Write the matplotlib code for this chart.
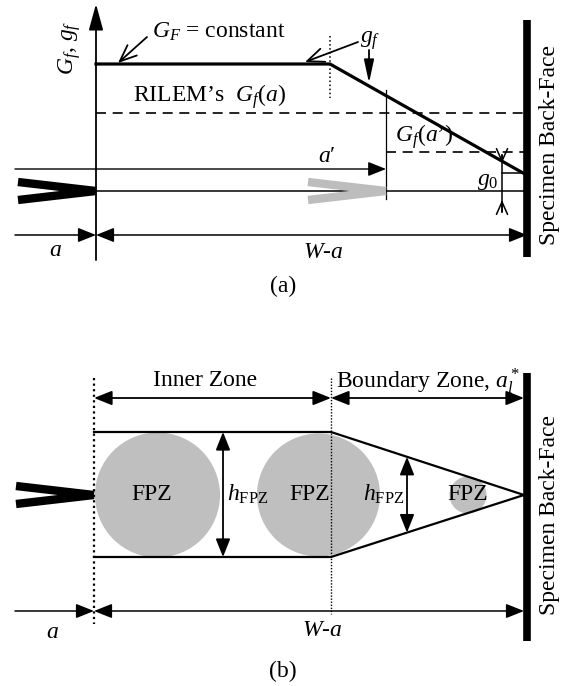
import numpy as np
import matplotlib.pyplot as plt
from matplotlib.patches import Circle

plt.rcParams['font.family'] = ['Liberation Serif', 'DejaVu Serif']
plt.rcParams['mathtext.fontset'] = 'custom'
plt.rcParams['mathtext.rm'] = 'Liberation Serif'
plt.rcParams['mathtext.it'] = 'Liberation Serif:italic'
plt.rcParams['mathtext.bf'] = 'Liberation Serif:bold'

# ---- panel (a) geometry (pixel units of the original picture) ----
x_tip = 96          # crack tip / G axis
x_back = 527        # specimen back face
x_knee = 330        # end of constant G_F
x_aprime = 386      # a'
gf_x = [x_tip, x_knee, 523]
gf_y = [64, 64, 173]
rilem_y = 113
gf_aprime_y = 152
crack_y_a = 191
dim_y_a = 235
aprime_y = 169

# ---- panel (b) geometry ----
x_inner = 331
zone_top = 432
zone_bot = 557
crack_y_b = 495
dim_y_b = 611
zone_arrow_y = 398
fpz_x = [157.5, 318.5, 468]
fpz_r = [62.5, 61.5, 18.5]
hfpz_x = [223, 407]

fs = 17
fig = plt.figure(figsize=(5.62, 6.86), dpi=100)
ax = fig.add_axes([0, 0, 1, 1])
ax.set_xlim(0, 562)
ax.set_ylim(686, 0)
ax.axis('off')


def arrow(x0, y0, x1, y1, style='-|>', lw=1.3, hl=0.55, hw=0.22, ms=20):
    st = f'{style},head_length={hl},head_width={hw}'
    ax.annotate('', xy=(x1, y1), xytext=(x0, y0),
                arrowprops=dict(arrowstyle=st, lw=lw, color='black',
                                shrinkA=0, shrinkB=0, mutation_scale=ms))


def notch(xl, xr, yc, color):
    ax.plot([xl, xr], [yc - 9, yc], color=color, lw=6, solid_capstyle='butt')
    ax.plot([xl, xr], [yc + 9, yc], color=color, lw=6, solid_capstyle='butt')


# ================= panel (a) =================
# vertical G axis
arrow(x_tip, 260, x_tip, 4, hl=0.8, hw=0.22)
ax.text(70, 48, '$G_f$, $g_f$', rotation=90, ha='center', va='center', fontsize=fs)

# G_f profile
ax.plot(gf_x, gf_y, color='black', lw=2.3)
ax.plot([x_knee, x_knee], [36, 98], color='black', lw=1.1, ls=':')
ax.text(219, 32, '$G_F$ = constant', ha='center', va='center', fontsize=fs)
arrow(147, 37, 118, 63, style='->', lw=1.3, hl=0.6, hw=0.25)
ax.text(370, 41, '$g_f$', ha='center', va='center', fontsize=fs)
arrow(358, 42, 305, 62, style='->', lw=1.3, hl=0.6, hw=0.25)
arrow(369, 50, 369, 83, style='-|>', lw=1.3, hl=0.7, hw=0.15)

# RILEM line and G_f(a')
ax.plot([x_tip, x_back], [rilem_y, rilem_y], color='black', lw=1.2, ls=(0, (6, 4)))
ax.text(210, 97, 'RILEM\u2019s  $G_f(a)$', ha='center', va='center', fontsize=fs)
ax.plot([x_aprime, x_back], [gf_aprime_y, gf_aprime_y], color='black', lw=1.2,
        ls=(0, (6, 4)))
ax.text(424, 137, '$G_f$($a$\u2019)', ha='center', va='center', fontsize=fs)
ax.plot([x_aprime, x_aprime], [90, 199], color='black', lw=0.9)

# a' arrow
arrow(15, aprime_y, x_aprime, aprime_y, lw=1.0)
ax.text(327, 157, '$a$\u2032', ha='center', va='center', fontsize=fs)

# crack line and notches
ax.plot([x_tip, x_back], [crack_y_a, crack_y_a], color='black', lw=1.1)
notch(18, x_tip, crack_y_a, 'black')
notch(308, x_aprime, crack_y_a, '#bdbdbd')

# g0
ax.plot([502, 523], [gf_y[-1], gf_y[-1]], color='black', lw=1.1)
ax.plot([502, 502], [155, 212], color='black', lw=1.1)
arrow(502, 155, 502, gf_y[-1] - 10, style='->', lw=1.1, hl=0.45, hw=0.2)
arrow(502, 212, 502, 200, style='->', lw=1.1, hl=0.45, hw=0.2)
ax.text(488, 181, '$g_0$', ha='center', va='center', fontsize=fs)

# dimension lines
arrow(15, dim_y_a, x_tip, dim_y_a, lw=1.1)
arrow(x_tip, dim_y_a, x_back, dim_y_a, style='<|-|>', lw=1.1)
ax.text(55, 251, '$a$', ha='center', va='center', fontsize=fs)
ax.text(323, 253, '$W$-$a$', ha='center', va='center', fontsize=fs)
ax.text(283, 286, '(a)', ha='center', va='center', fontsize=fs)

# back face
ax.plot([x_back, x_back], [20, 257], color='black', lw=5.5, solid_capstyle='butt')
ax.text(549, 145, 'Specimen Back-Face', rotation=90, ha='center', va='center',
        fontsize=fs)

# ================= panel (b) =================
ax.plot([94, 94], [378, 624], color='black', lw=1.6, ls=(0, (1, 1.5)))
ax.plot([x_inner, x_inner], [378, 614], color='black', lw=1.0, ls=(0, (1, 1.2)))

for cx, r in zip(fpz_x, fpz_r):
    ax.add_patch(Circle((cx, crack_y_b), r, facecolor='#bfbfbf', edgecolor='none',
                        zorder=1))
for cx in [152, 310, 468]:
    ax.text(cx, crack_y_b - 1, 'FPZ', ha='center', va='center', fontsize=fs, zorder=3)

ax.plot([94, x_inner, 524], [zone_top, zone_top, crack_y_b], color='black', lw=1.6)
ax.plot([94, x_inner, 524], [zone_bot, zone_bot, crack_y_b], color='black', lw=1.6)

# h_FPZ arrows
arrow(hfpz_x[0], zone_top, hfpz_x[0], zone_bot, style='<|-|>', lw=1.3)
t2 = (hfpz_x[1] - x_inner) / (524 - x_inner)
y_up = zone_top + t2 * (crack_y_b - zone_top)
y_lo = zone_bot + t2 * (crack_y_b - zone_bot)
arrow(hfpz_x[1], y_up, hfpz_x[1], y_lo, style='<|-|>', lw=1.3)
ax.text(248, crack_y_b - 1, '$h_{\\mathrm{FPZ}}$', ha='center', va='center', fontsize=fs)
ax.text(384, crack_y_b - 1, '$h_{\\mathrm{FPZ}}$', ha='center', va='center', fontsize=fs)

notch(16, 94, crack_y_b, 'black')

# zone arrows
arrow(94, zone_arrow_y, x_inner, zone_arrow_y, style='<|-|>', lw=1.3)
arrow(x_inner, zone_arrow_y, 524, zone_arrow_y, style='<|-|>', lw=1.3)
ax.text(205, 381, 'Inner Zone', ha='center', va='center', fontsize=fs)
ax.text(336, 381, 'Boundary Zone, $a_l^*$', ha='left', va='center', fontsize=fs)

# dimension lines
arrow(15, dim_y_b, 94, dim_y_b, lw=1.1)
arrow(94, dim_y_b, 524, dim_y_b, style='<|-|>', lw=1.1)
ax.text(52, 632, '$a$', ha='center', va='center', fontsize=fs)
ax.text(322, 630, '$W$-$a$', ha='center', va='center', fontsize=fs)
ax.text(283, 671, '(b)', ha='center', va='center', fontsize=fs)

ax.plot([x_back, x_back], [373, 641], color='black', lw=5.5, solid_capstyle='butt')
ax.text(549, 515, 'Specimen Back-Face', rotation=90, ha='center', va='center',
        fontsize=fs)

fig.savefig('out.png', dpi=100)
